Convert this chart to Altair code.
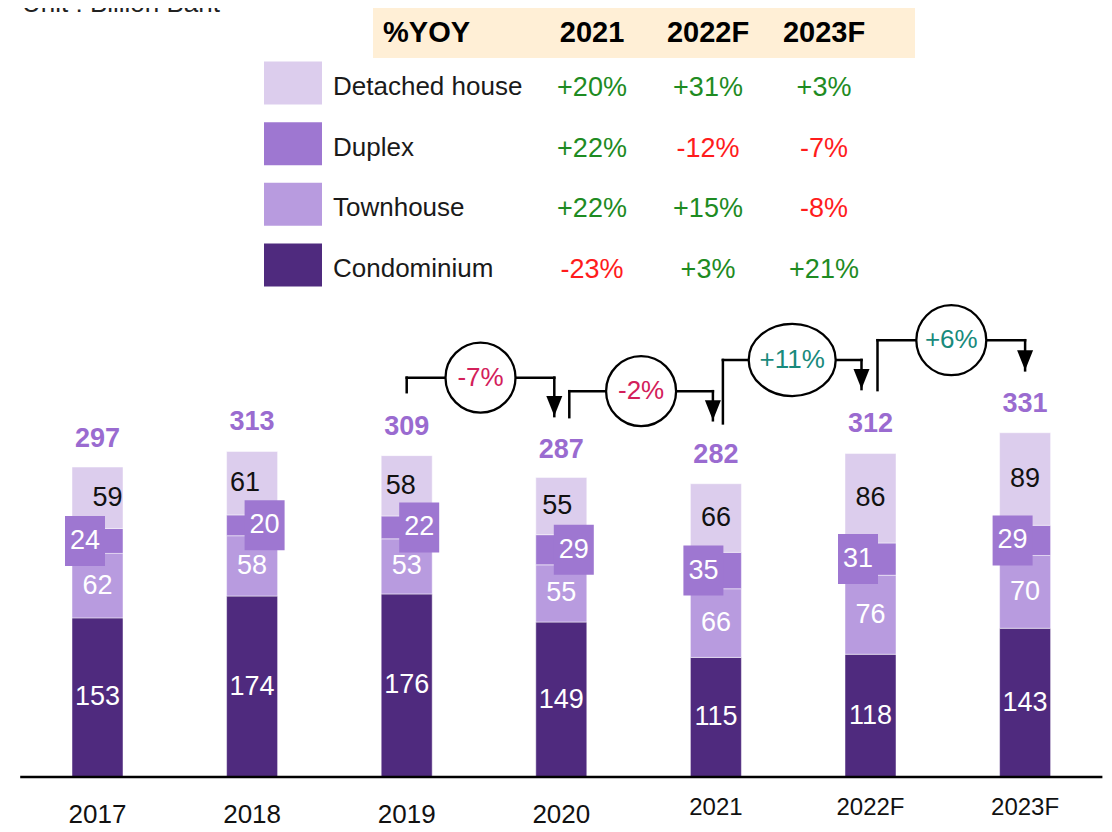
import altair as alt
import pandas as pd

# ------------------------------------------------------------------ data
years = ["2017", "2018", "2019", "2020", "2021", "2022F", "2023F"]
condominium = [153, 174, 176, 149, 115, 118, 143]
townhouse = [62, 58, 53, 55, 66, 76, 70]
duplex = [24, 20, 22, 29, 35, 31, 29]
detached = [59, 61, 58, 55, 66, 86, 89]
totals = [297, 313, 309, 287, 282, 312, 331]

yoy_years = ["2021", "2022F", "2023F"]
legend_rows = ["Detached house", "Duplex", "Townhouse", "Condominium"]
yoy_detached = ["+20%", "+31%", "+3%"]
yoy_duplex = ["+22%", "-12%", "-7%"]
yoy_townhouse = ["+22%", "+15%", "-8%"]
yoy_condominium = ["-23%", "+3%", "+21%"]

growth_labels = ["-7%", "-2%", "+11%", "+6%"]
growth_from = [2, 3, 4, 5]          # index of the starting year of each arrow

# ------------------------------------------------------------------ layout / style
W, H = 1096, 824
STEP = 154.6          # px between bar centres
X0 = 89.5             # px of first bar centre
BASE = 769            # px of value 0
PPU = 1.04            # px per unit
FONT = "Liberation Sans"
NARROW = "Liberation Sans Narrow, Liberation Sans"

C_DET, C_DUP, C_TOWN, C_CONDO = "#DCCDED", "#9E77D1", "#B89BDF", "#4F2A7E"
C_TOTAL = "#9A6BD0"
C_GREEN, C_RED = "#1E8B22", "#FF1C1C"
C_NEG, C_POS = "#D3205A", "#198A7C"

stack_order = ["Condominium", "Townhouse", "Duplex", "Detached house"]
stack_colors = [C_CONDO, C_TOWN, C_DUP, C_DET]
series = {"Condominium": condominium, "Townhouse": townhouse,
          "Duplex": duplex, "Detached house": detached}

box_side = [-1, 1, 1, 1, -1, -1, -1]     # duplex label box left / right of the bar
box_shift_px = 12.5
det_dx_px = [10, -7, -6, -4, 0, 0, 0]    # detached label nudges

# arrow annotations (value units for heights, px nudges for x)
conn_level = [384, 371, 401, 420]
conn_start = [370, 346, 340, 372]
conn_tip = [347, 343, 373, 391]
conn_left_px = [0, 8, 7, 7]
conn_right_px = [-7, -3, -9, 0]

x_dom = [-X0 / STEP, (W - X0) / STEP]
y_dom = [-(H - BASE) / PPU, BASE / PPU]
xs = alt.Scale(domain=x_dom, nice=False, zero=False, padding=0)
ys = alt.Scale(domain=y_dom, nice=False, zero=False, padding=0)

# ------------------------------------------------------------------ frames
seg_rows = []
for i, yr in enumerate(years):
    b = 0
    for c in stack_order:
        v = series[c][i]
        if c == "Duplex":
            lx = i + box_side[i] * box_shift_px / STEP
            tc = "#ffffff"
        elif c == "Detached house":
            lx = i + det_dx_px[i] / STEP
            tc = "#111111"
        else:
            lx = i
            tc = "#ffffff"
        seg_rows.append(dict(idx=i, year=yr, cat=c, value=v, y0=b, y1=b + v,
                             mid=b + v / 2, lx=lx, tc=tc))
        b += v
seg = pd.DataFrame(seg_rows)
dup = seg[seg["cat"] == "Duplex"]

tot = pd.DataFrame(dict(idx=list(range(len(years))), year=years, total=totals))

rule_rows, head_rows, circ_rows = [], [], []
for j, lab in enumerate(growth_labels):
    i = growth_from[j]
    xl = i + conn_left_px[j] / STEP
    xr = i + 1 + conn_right_px[j] / STEP
    lv = conn_level[j]
    rule_rows += [dict(x=xl, x2=xl, y=conn_start[j], y2=lv),
                  dict(x=xl, x2=xr, y=lv, y2=lv),
                  dict(x=xr, x2=xr, y=lv, y2=conn_tip[j])]
    head_rows.append(dict(x=xr, y=conn_tip[j]))
    circ_rows.append(dict(x=(xl + xr) / 2, y=lv, label=lab,
                          tc=C_NEG if lab.startswith("-") else C_POS,
                          wide=len(lab) > 3))
rules = pd.DataFrame(rule_rows)
heads = pd.DataFrame(head_rows)
circs = pd.DataFrame(circ_rows)

baseline = pd.DataFrame(dict(x=[-0.5], x2=[len(years) - 0.5], y=[0]))
xlab = tot.copy()

yoy_series = [yoy_detached, yoy_duplex, yoy_townhouse, yoy_condominium]
tab_rows = []
for r, vals in zip(legend_rows, yoy_series):
    for col, v in zip(yoy_years, vals):
        tab_rows.append(dict(row=r, col=col, v=v,
                             tc=C_GREEN if v.startswith("+") else C_RED))
tab = pd.DataFrame(tab_rows)
rows_df = pd.DataFrame(dict(row=legend_rows))
head_df = pd.DataFrame(dict(col=yoy_years))
one = pd.DataFrame(dict(t=["%YOY"]))
unit = pd.DataFrame(dict(t=["Unit : Billion Baht"]))

# ------------------------------------------------------------------ table group
ysc_rows = alt.Scale(type="point", domain=legend_rows, range=[75, 257], padding=0)
xsc_cols = alt.Scale(type="point", domain=yoy_years, range=[584, 816], padding=0)

beige = alt.Chart(one).mark_rect(color="#FFEFD6").encode(
    x=alt.value(365), x2=alt.value(907), y=alt.value(0), y2=alt.value(50))
yoy_head = alt.Chart(one).mark_text(font=FONT, fontSize=29, fontWeight="bold",
                                    align="left", baseline="middle", color="#000").encode(
    x=alt.value(375), y=alt.value(25), text="t:N")
col_head = alt.Chart(head_df).mark_text(font=FONT, fontSize=29, fontWeight="bold",
                                        baseline="middle", color="#000").encode(
    x=alt.X("col:N", scale=xsc_cols, axis=None), y=alt.value(25), text="col:N")
swatch = alt.Chart(rows_df).mark_point(
    shape="M-1,-0.74L1,-0.74L1,0.74L-1,0.74Z", size=3364, filled=True, opacity=1,
    strokeWidth=0).encode(
    x=alt.value(285),
    y=alt.Y("row:N", scale=ysc_rows, axis=None),
    color=alt.Color("row:N", scale=alt.Scale(domain=legend_rows,
                                             range=[C_DET, C_DUP, C_TOWN, C_CONDO]),
                    legend=None))
row_lab = alt.Chart(rows_df).mark_text(font=FONT, fontSize=26, align="left",
                                       baseline="middle", dy=4, color="#1a1a1a").encode(
    x=alt.value(325), y=alt.Y("row:N", scale=ysc_rows, axis=None), text="row:N")
vals = alt.Chart(tab).mark_text(font=FONT, fontSize=27, baseline="middle", dy=5).encode(
    x=alt.X("col:N", scale=xsc_cols, axis=None),
    y=alt.Y("row:N", scale=ysc_rows, axis=None),
    text="v:N", color=alt.Color("tc:N", scale=None))
unit_txt = alt.Chart(unit).mark_text(font=FONT, fontSize=26, align="left",
                                     baseline="alphabetic", color="#222", clip=True).encode(
    x=alt.value(14), y=alt.value(4), text="t:N")

table = alt.layer(unit_txt, beige, yoy_head, col_head, swatch, row_lab, vals)

# ------------------------------------------------------------------ bars group
X = lambda f: alt.X(f, scale=xs, axis=None)
Y = lambda f: alt.Y(f, scale=ys, axis=None)

bars = alt.Chart(seg).mark_bar(width=51, stroke="#ffffff", strokeWidth=0.8,
                               strokeOpacity=0.6).encode(
    x=X("idx:Q"), y=Y("y0:Q"), y2="y1:Q",
    color=alt.Color("cat:N", scale=alt.Scale(domain=stack_order, range=stack_colors),
                    legend=None))
boxes = alt.Chart(dup).mark_point(shape="M-0.8,-1L0.8,-1L0.8,1L-0.8,1Z", size=2500,
                                  filled=True, opacity=1, strokeWidth=0,
                                  color=C_DUP).encode(
    x=X("lx:Q"), y=Y("mid:Q"))
seg_txt = alt.Chart(seg).mark_text(font=FONT, fontSize=27, baseline="middle").encode(
    x=X("lx:Q"), y=Y("mid:Q"), text="value:Q", color=alt.Color("tc:N", scale=None))
tot_txt = alt.Chart(tot).mark_text(font=FONT, fontSize=27, fontWeight="bold",
                                   baseline="alphabetic", dy=-21, color=C_TOTAL).encode(
    x=X("idx:Q"), y=Y("total:Q"), text="total:Q")

conn = alt.Chart(rules).mark_rule(color="#000", strokeWidth=2.5, strokeCap="square").encode(
    x=X("x:Q"), x2="x2:Q", y=Y("y:Q"), y2="y2:Q")
arrow = alt.Chart(heads).mark_point(shape="M-0.8,-2L0.8,-2L0,0Z", size=400, filled=True,
                                    opacity=1, color="#000", strokeWidth=0).encode(
    x=X("x:Q"), y=Y("y:Q"))
circle = alt.Chart(circs).transform_filter("!datum.wide").mark_point(
    shape="circle", size=4900, filled=False, fill="#ffffff", fillOpacity=1,
    stroke="#000", strokeWidth=2.3, opacity=1).encode(x=X("x:Q"), y=Y("y:Q"))
ellipse = alt.Chart(circs).transform_filter("datum.wide").mark_point(
    shape="M-1,0A1,0.83,0,1,0,1,0A1,0.83,0,1,0,-1,0Z", size=7569, filled=False,
    fill="#ffffff", fillOpacity=1, stroke="#000", strokeWidth=2.3, opacity=1).encode(
    x=X("x:Q"), y=Y("y:Q"))
pct = alt.Chart(circs).mark_text(font=FONT, fontSize=26, baseline="middle").encode(
    x=X("x:Q"), y=Y("y:Q"), text="label:N", color=alt.Color("tc:N", scale=None))

base_rule = alt.Chart(baseline).mark_rule(color="#000", strokeWidth=2.5).encode(
    x=X("x:Q"), x2="x2:Q", y=Y("y:Q"))
xl_a = alt.Chart(xlab).transform_filter("datum.idx < 4").mark_text(
    font=FONT, fontSize=26, baseline="middle", color="#111").encode(
    x=X("idx:Q"), y=alt.value(807), text="year:N")
xl_b = alt.Chart(xlab).transform_filter("datum.idx >= 4").mark_text(
    font=NARROW, fontSize=24, baseline="middle", color="#111").encode(
    x=X("idx:Q"), y=alt.value(800), text="year:N")

barsg = alt.layer(bars, boxes, seg_txt, tot_txt, conn, arrow, circle, ellipse, pct,
                  base_rule, xl_a, xl_b)

chart = alt.layer(table, barsg).resolve_scale(
    x="independent", y="independent", color="independent"
).properties(
    width=W, height=H, padding=0,
    autosize=alt.AutoSizeParams(type="none"), background="white"
).configure_view(strokeWidth=0)

chart.save("out.html", embed_options={"renderer": "svg", "actions": False})
